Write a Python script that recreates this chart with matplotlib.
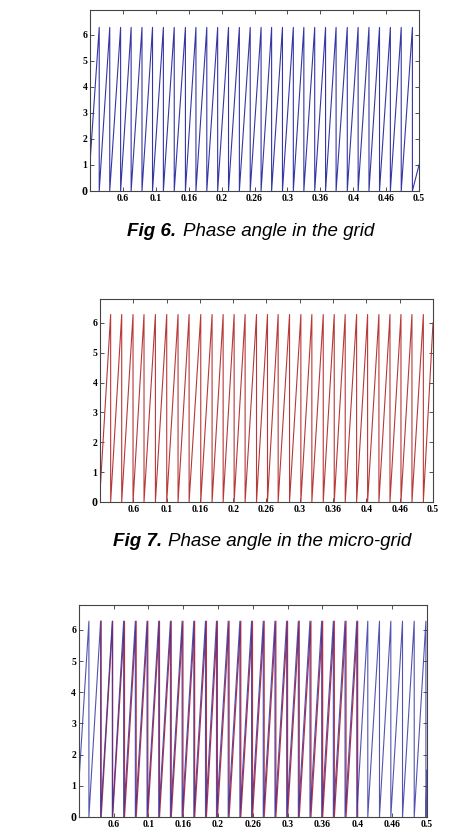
import matplotlib
matplotlib.use('Agg')
import matplotlib.pyplot as plt

# wrap times (s), where the phase falls back to 0
grid_wraps = [0.014, 0.030, 0.0465, 0.0625, 0.079, 0.095, 0.1115, 0.128, 0.145, 0.161,
              0.1775, 0.194, 0.2105, 0.227, 0.2435, 0.26, 0.276, 0.2925, 0.309, 0.325,
              0.3415, 0.358, 0.374, 0.391, 0.4075, 0.424, 0.44, 0.4565, 0.473, 0.49]
grid_start, grid_end = 1.1, 1.0

micro_wraps = [0.016, 0.0326, 0.0496, 0.0661, 0.0832, 0.1002, 0.1172, 0.1338, 0.1513, 0.1683,
               0.1849, 0.2014, 0.2179, 0.235, 0.2515, 0.2675, 0.2846, 0.3016, 0.3181, 0.3352,
               0.3517, 0.3682, 0.3853, 0.4018, 0.4188, 0.4354, 0.4519, 0.4684, 0.4855]
micro_start, micro_end = 0.3, 6.0

both_grid_wraps = [0.0144, 0.0312, 0.048, 0.0643, 0.0811, 0.0979, 0.1147, 0.1315, 0.1483, 0.1651,
                   0.1819, 0.1977, 0.2145, 0.2313, 0.2481, 0.2649, 0.2817, 0.2985, 0.3153, 0.332,
                   0.3488, 0.3656, 0.3824, 0.3992, 0.4151, 0.4319, 0.4482, 0.465, 0.4818, 0.4986]
both_grid_start, both_grid_end = 1.1, 1.5

both_micro_wraps = [0.032, 0.0485, 0.0655, 0.0823, 0.099, 0.1158, 0.1327, 0.1495, 0.1663, 0.1832,
                    0.199, 0.2158, 0.2326, 0.2494, 0.2662, 0.283, 0.2998, 0.3166, 0.3334, 0.3502,
                    0.367, 0.3838, 0.4005]

phase_low, phase_high = 0.0, 6.28

x_ticks = [0.05, 0.1, 0.15, 0.2, 0.25, 0.3, 0.35, 0.4, 0.45, 0.5]
x_labels = ['0.6', '0.1', '0.16', '0.2', '0.26', '0.3', '0.36', '0.4', '0.46', '0.5']
y_ticks = [0, 1, 2, 3, 4, 5, 6]
y_labels = ['0', '1', '2', '3', '4', '5', '6']


'''
Builds the sawtooth vertices from the wrap times
'''
def saw(wraps, start=None, end=None):
    xs, ys = [], []
    if start is not None:
        xs.append(0.0)
        ys.append(start)
    for t in wraps:
        xs += [t, t]
        ys += [phase_high, phase_low]
    if end is not None:
        xs.append(0.5)
        ys.append(end)
    return xs, ys


def style_axes(ax, ytop):
    ax.set_xlim(0, 0.5)
    ax.set_ylim(0, ytop)
    ax.set_xticks(x_ticks)
    ax.set_xticklabels(x_labels)
    ax.set_yticks(y_ticks)
    ax.set_yticklabels(y_labels)
    ax.tick_params(direction='in', top=True, right=True, length=3, width=0.6,
                   labelsize=7, pad=2, colors='#333333', labelcolor='black')
    for lab in ax.get_xticklabels() + ax.get_yticklabels():
        lab.set_family('Liberation Serif')
        lab.set_fontweight('bold')
    # the zero label is printed larger in the original
    ax.get_yticklabels()[0].set_fontsize(8.5)
    for s in ax.spines.values():
        s.set_linewidth(0.8)
        s.set_color('#444444')


fig = plt.figure(figsize=(4.64, 8.38), dpi=100)

ax1 = fig.add_axes([0.194, 0.7721, 0.709, 0.216])
x, y = saw(grid_wraps, grid_start, grid_end)
ax1.plot(x, y, color='#3535a5', lw=0.8)
style_axes(ax1, 6.95)

ax2 = fig.add_axes([0.2155, 0.401, 0.7177, 0.2422])
x, y = saw(micro_wraps, micro_start, micro_end)
ax2.plot(x, y, color='#b83838', lw=0.8)
style_axes(ax2, 6.8)

ax3 = fig.add_axes([0.170, 0.02506, 0.75, 0.253])
x, y = saw(both_micro_wraps)
ax3.plot(x, y, color='#c03040', lw=0.9)
x, y = saw(both_grid_wraps, both_grid_start, both_grid_end)
ax3.plot(x, y, color='#3535a5', lw=0.8, alpha=0.85)
style_axes(ax3, 6.8)

# captions
cap_font = 'Liberation Sans'
cap_size = 13.5
fig.text(126.7 / 464, 1 - 231 / 838, 'Fig 6.', fontsize=cap_size, family=cap_font,
         style='italic', weight='bold', va='center', ha='left')
fig.text(182.7 / 464, 1 - 231 / 838, 'Phase angle in the grid', fontsize=cap_size,
         family=cap_font, style='italic', va='center', ha='left')
fig.text(112.7 / 464, 1 - 542 / 838, 'Fig 7.', fontsize=cap_size, family=cap_font,
         style='italic', weight='bold', va='center', ha='left')
fig.text(168.3 / 464, 1 - 542 / 838, 'Phase angle in the micro-grid', fontsize=cap_size,
         family=cap_font, style='italic', va='center', ha='left')

fig.savefig('out.png', dpi=100)
